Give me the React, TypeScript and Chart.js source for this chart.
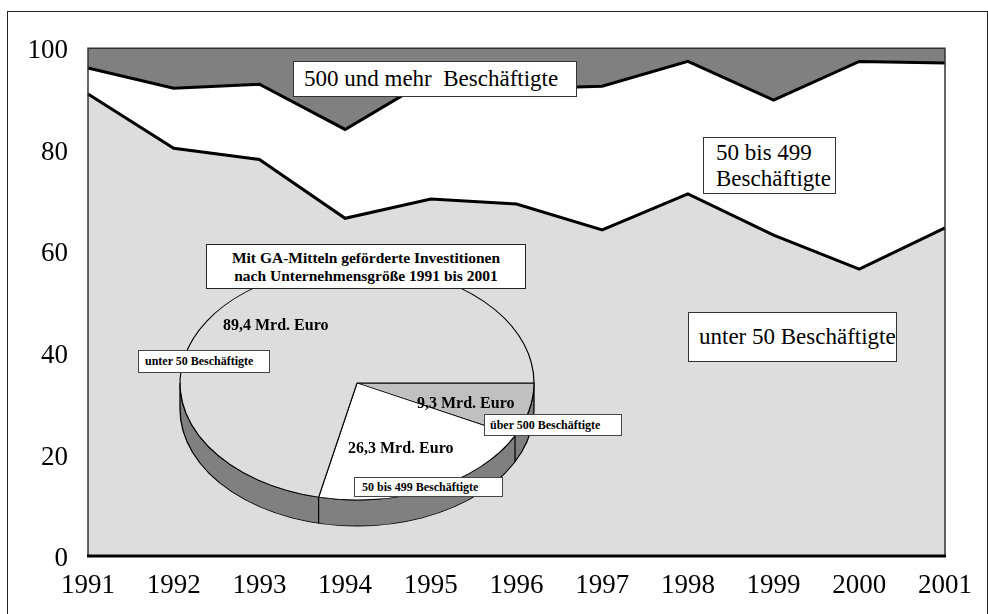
import React, { useEffect, useRef } from 'react';
import { Chart, registerables } from 'chart.js';

Chart.register(...registerables);

// ---- data ----
const years = ['1991', '1992', '1993', '1994', '1995', '1996', '1997', '1998', '1999', '2000', '2001'];
const shareUnder50 = [91.0, 80.3, 78.1, 66.5, 70.3, 69.3, 64.2, 71.3, 63.2, 56.5, 64.6];
const share50to499 = [5.1, 11.8, 14.8, 17.5, 23.7, 22.7, 28.3, 26.1, 26.6, 40.9, 32.5];
const share500plus = [3.9, 7.9, 7.1, 16.0, 6.0, 8.0, 7.5, 2.6, 10.2, 2.6, 2.9];
const seriesNames = ['unter 50 Beschäftigte', '50 bis 499 Beschäftigte', '500 und mehr  Beschäftigte'];
const yMin = 0;
const yMax = 100;
const yStep = 20;

const pieTitle = ['Mit GA-Mitteln geförderte Investitionen', 'nach Unternehmensgröße 1991 bis 2001'];
const pieLabels = ['über 500 Beschäftigte', '50 bis 499 Beschäftigte', 'unter 50 Beschäftigte'];
const pieValues = [9.3, 26.3, 89.4];
const pieUnit = 'Mrd. Euro';

// ---- styles ----
const SERIF = "'Liberation Serif', 'Times New Roman', serif";
const PIE_K = 117 / 177; // vertical squash of the pie
const PIE_DEPTH = 26; // px on screen

const fmt = (v: number) => v.toFixed(1).replace('.', ',') + ' ' + pieUnit;

const framePlugin = {
  id: 'frame',
  afterDatasetsDraw(chart: any) {
    const { ctx, chartArea } = chart;
    const { left, right, top, bottom } = chartArea;
    ctx.save();
    ctx.strokeStyle = '#333';
    ctx.lineWidth = 1.5;
    ctx.beginPath();
    ctx.moveTo(left, bottom);
    ctx.lineTo(left, top);
    ctx.lineTo(right, top);
    ctx.lineTo(right, bottom);
    ctx.stroke();
    ctx.strokeStyle = '#000';
    ctx.lineWidth = 3;
    ctx.beginPath();
    ctx.moveTo(left - 1, bottom);
    ctx.lineTo(right + 1, bottom);
    ctx.stroke();
    ctx.restore();
  },
};

const pie3dPlugin = {
  id: 'pie3d',
  beforeDatasetsDraw(chart: any) {
    const meta = chart.getDatasetMeta(0);
    const arcs = meta.data;
    if (!arcs.length) return;
    const cx = arcs[0].x;
    const cy = arcs[0].y;
    const r = arcs[0].outerRadius;
    const ctx = chart.ctx;
    ctx.save();
    ctx.translate(cx, cy);
    ctx.scale(1, PIE_K);
    ctx.translate(-cx, -cy);
    const d = PIE_DEPTH / PIE_K;
    // side wall
    ctx.beginPath();
    ctx.moveTo(cx + r, cy);
    ctx.lineTo(cx + r, cy + d);
    ctx.arc(cx, cy + d, r, 0, Math.PI, false);
    ctx.lineTo(cx - r, cy);
    ctx.arc(cx, cy, r, Math.PI, 0, true);
    ctx.closePath();
    ctx.fillStyle = '#808080';
    ctx.fill();
    ctx.strokeStyle = '#000';
    ctx.lineWidth = 1.3;
    ctx.stroke();
    // dividers on the side wall
    arcs.forEach((a: any) => {
      let ang = a.endAngle % (Math.PI * 2);
      if (ang < 0) ang += Math.PI * 2;
      if (ang > 0.001 && ang < Math.PI - 0.001) {
        const x = cx + r * Math.cos(ang);
        const y = cy + r * Math.sin(ang);
        ctx.beginPath();
        ctx.moveTo(x, y);
        ctx.lineTo(x, y + d);
        ctx.lineWidth = 1.2;
        ctx.stroke();
      }
    });
  },
  afterDatasetsDraw(chart: any) {
    chart.ctx.restore();
  },
};

const boxBase: React.CSSProperties = {
  position: 'absolute',
  background: '#fff',
  boxSizing: 'border-box',
  color: '#000',
  whiteSpace: 'pre',
  display: 'flex',
  alignItems: 'center',
};

export default function App() {
  const areaRef = useRef<HTMLCanvasElement | null>(null);
  const pieRef = useRef<HTMLCanvasElement | null>(null);

  useEffect(() => {
    const tickFont = { family: SERIF, size: 27 };
    const area = new Chart(areaRef.current as HTMLCanvasElement, {
      type: 'line',
      data: {
        labels: years,
        datasets: [
          {
            label: seriesNames[0],
            data: shareUnder50,
            fill: 'origin',
            backgroundColor: '#DDDDDD',
            borderColor: '#000',
            borderWidth: 3,
            pointRadius: 0,
            tension: 0,
          },
          {
            label: seriesNames[1],
            data: share50to499,
            fill: '-1',
            backgroundColor: '#FFFFFF',
            borderColor: '#000',
            borderWidth: 3,
            pointRadius: 0,
            tension: 0,
          },
          {
            label: seriesNames[2],
            data: share500plus,
            fill: '-1',
            backgroundColor: '#808080',
            borderColor: '#333',
            borderWidth: 1,
            pointRadius: 0,
            tension: 0,
          },
        ],
      },
      options: {
        animation: false,
        responsive: false,
        events: [],
        layout: { padding: { left: 0, right: 41, top: 36, bottom: 0 } },
        plugins: { legend: { display: false }, tooltip: { enabled: false } },
        scales: {
          x: {
            grid: { display: false, drawTicks: false },
            border: { display: false },
            ticks: { font: tickFont, color: '#000', padding: 14, maxRotation: 0, autoSkip: false },
            afterFit: (s: any) => {
              s.height = 56;
            },
          },
          y: {
            stacked: true,
            min: yMin,
            max: yMax,
            grid: { display: false, drawTicks: false },
            border: { display: false },
            ticks: { stepSize: yStep, font: tickFont, color: '#000', padding: 20, labelOffset: 3 },
            afterFit: (s: any) => {
              s.width = 80;
            },
          },
        },
      },
      plugins: [framePlugin],
    } as any);

    const pie = new Chart(pieRef.current as HTMLCanvasElement, {
      type: 'pie',
      data: {
        labels: pieLabels,
        datasets: [
          {
            data: pieValues,
            backgroundColor: ['#C0C0C0', '#FFFFFF', '#DDDDDD'],
            borderColor: '#000',
            borderWidth: 1.2,
          },
        ],
      },
      options: {
        animation: false,
        responsive: false,
        events: [],
        rotation: 90,
        radius: 177,
        plugins: { legend: { display: false }, tooltip: { enabled: false } },
      },
      plugins: [pie3dPlugin],
    } as any);

    return () => {
      area.destroy();
      pie.destroy();
    };
  }, []);

  // page coords -> container coords: subtract (8, 12)
  const big = { fontFamily: SERIF, fontSize: 23 };
  const bold = { fontFamily: SERIF, fontWeight: 700 as const };

  return (
    <div
      style={{
        position: 'fixed',
        left: 7,
        top: 11,
        width: 981,
        height: 640,
        boxSizing: 'border-box',
        border: '1px solid #222',
        background: '#fff',
        overflow: 'hidden',
      }}
    >
      <canvas ref={areaRef} width={978} height={600} style={{ position: 'absolute', left: 0, top: 0 }} />
      <canvas ref={pieRef} width={380} height={380} style={{ position: 'absolute', left: 159, top: 181 }} />

      <div style={{ ...boxBase, ...big, left: 285, top: 49, width: 284, height: 36, border: '1.5px solid #333', paddingLeft: 10 }}>
        {seriesNames[2]}
      </div>
      <div
        style={{
          ...boxBase,
          ...big,
          left: 695,
          top: 125,
          width: 133,
          height: 57,
          border: '1.5px solid #333',
          paddingLeft: 12,
          lineHeight: '26px',
          whiteSpace: 'pre-line',
        }}
      >
        {seriesNames[1].replace(' Beschäftigte', '\nBeschäftigte')}
      </div>
      <div style={{ ...boxBase, ...big, left: 680, top: 300, width: 209, height: 50, border: '1.5px solid #333', paddingLeft: 10 }}>
        {seriesNames[0]}
      </div>

      <div
        style={{
          ...boxBase,
          ...bold,
          fontSize: 15.5,
          lineHeight: '18px',
          left: 198,
          top: 232,
          width: 320,
          height: 45,
          border: '1.2px solid #222',
          flexDirection: 'column',
          justifyContent: 'center',
        }}
      >
        <div>{pieTitle[0]}</div>
        <div>{pieTitle[1]}</div>
      </div>

      <div style={{ ...boxBase, ...bold, fontSize: 12, left: 130, top: 338, width: 132, height: 23, border: '1px solid #444', paddingLeft: 6 }}>
        {pieLabels[2]}
      </div>
      <div style={{ ...boxBase, ...bold, fontSize: 12, left: 476, top: 402, width: 138, height: 22, border: '1px solid #444', paddingLeft: 5 }}>
        {pieLabels[0]}
      </div>
      <div style={{ ...boxBase, ...bold, fontSize: 12, left: 346, top: 465, width: 149, height: 20, border: '1px solid #444', paddingLeft: 7 }}>
        {pieLabels[1]}
      </div>

      <div style={{ position: 'absolute', ...bold, fontSize: 16, lineHeight: '20px', left: 215, top: 303, whiteSpace: 'pre' }}>
        {fmt(pieValues[2])}
      </div>
      <div style={{ position: 'absolute', ...bold, fontSize: 16, lineHeight: '20px', left: 409, top: 381, whiteSpace: 'pre' }}>
        {fmt(pieValues[0])}
      </div>
      <div style={{ position: 'absolute', ...bold, fontSize: 16, lineHeight: '20px', left: 340, top: 426, whiteSpace: 'pre' }}>
        {fmt(pieValues[1])}
      </div>
    </div>
  );
}
